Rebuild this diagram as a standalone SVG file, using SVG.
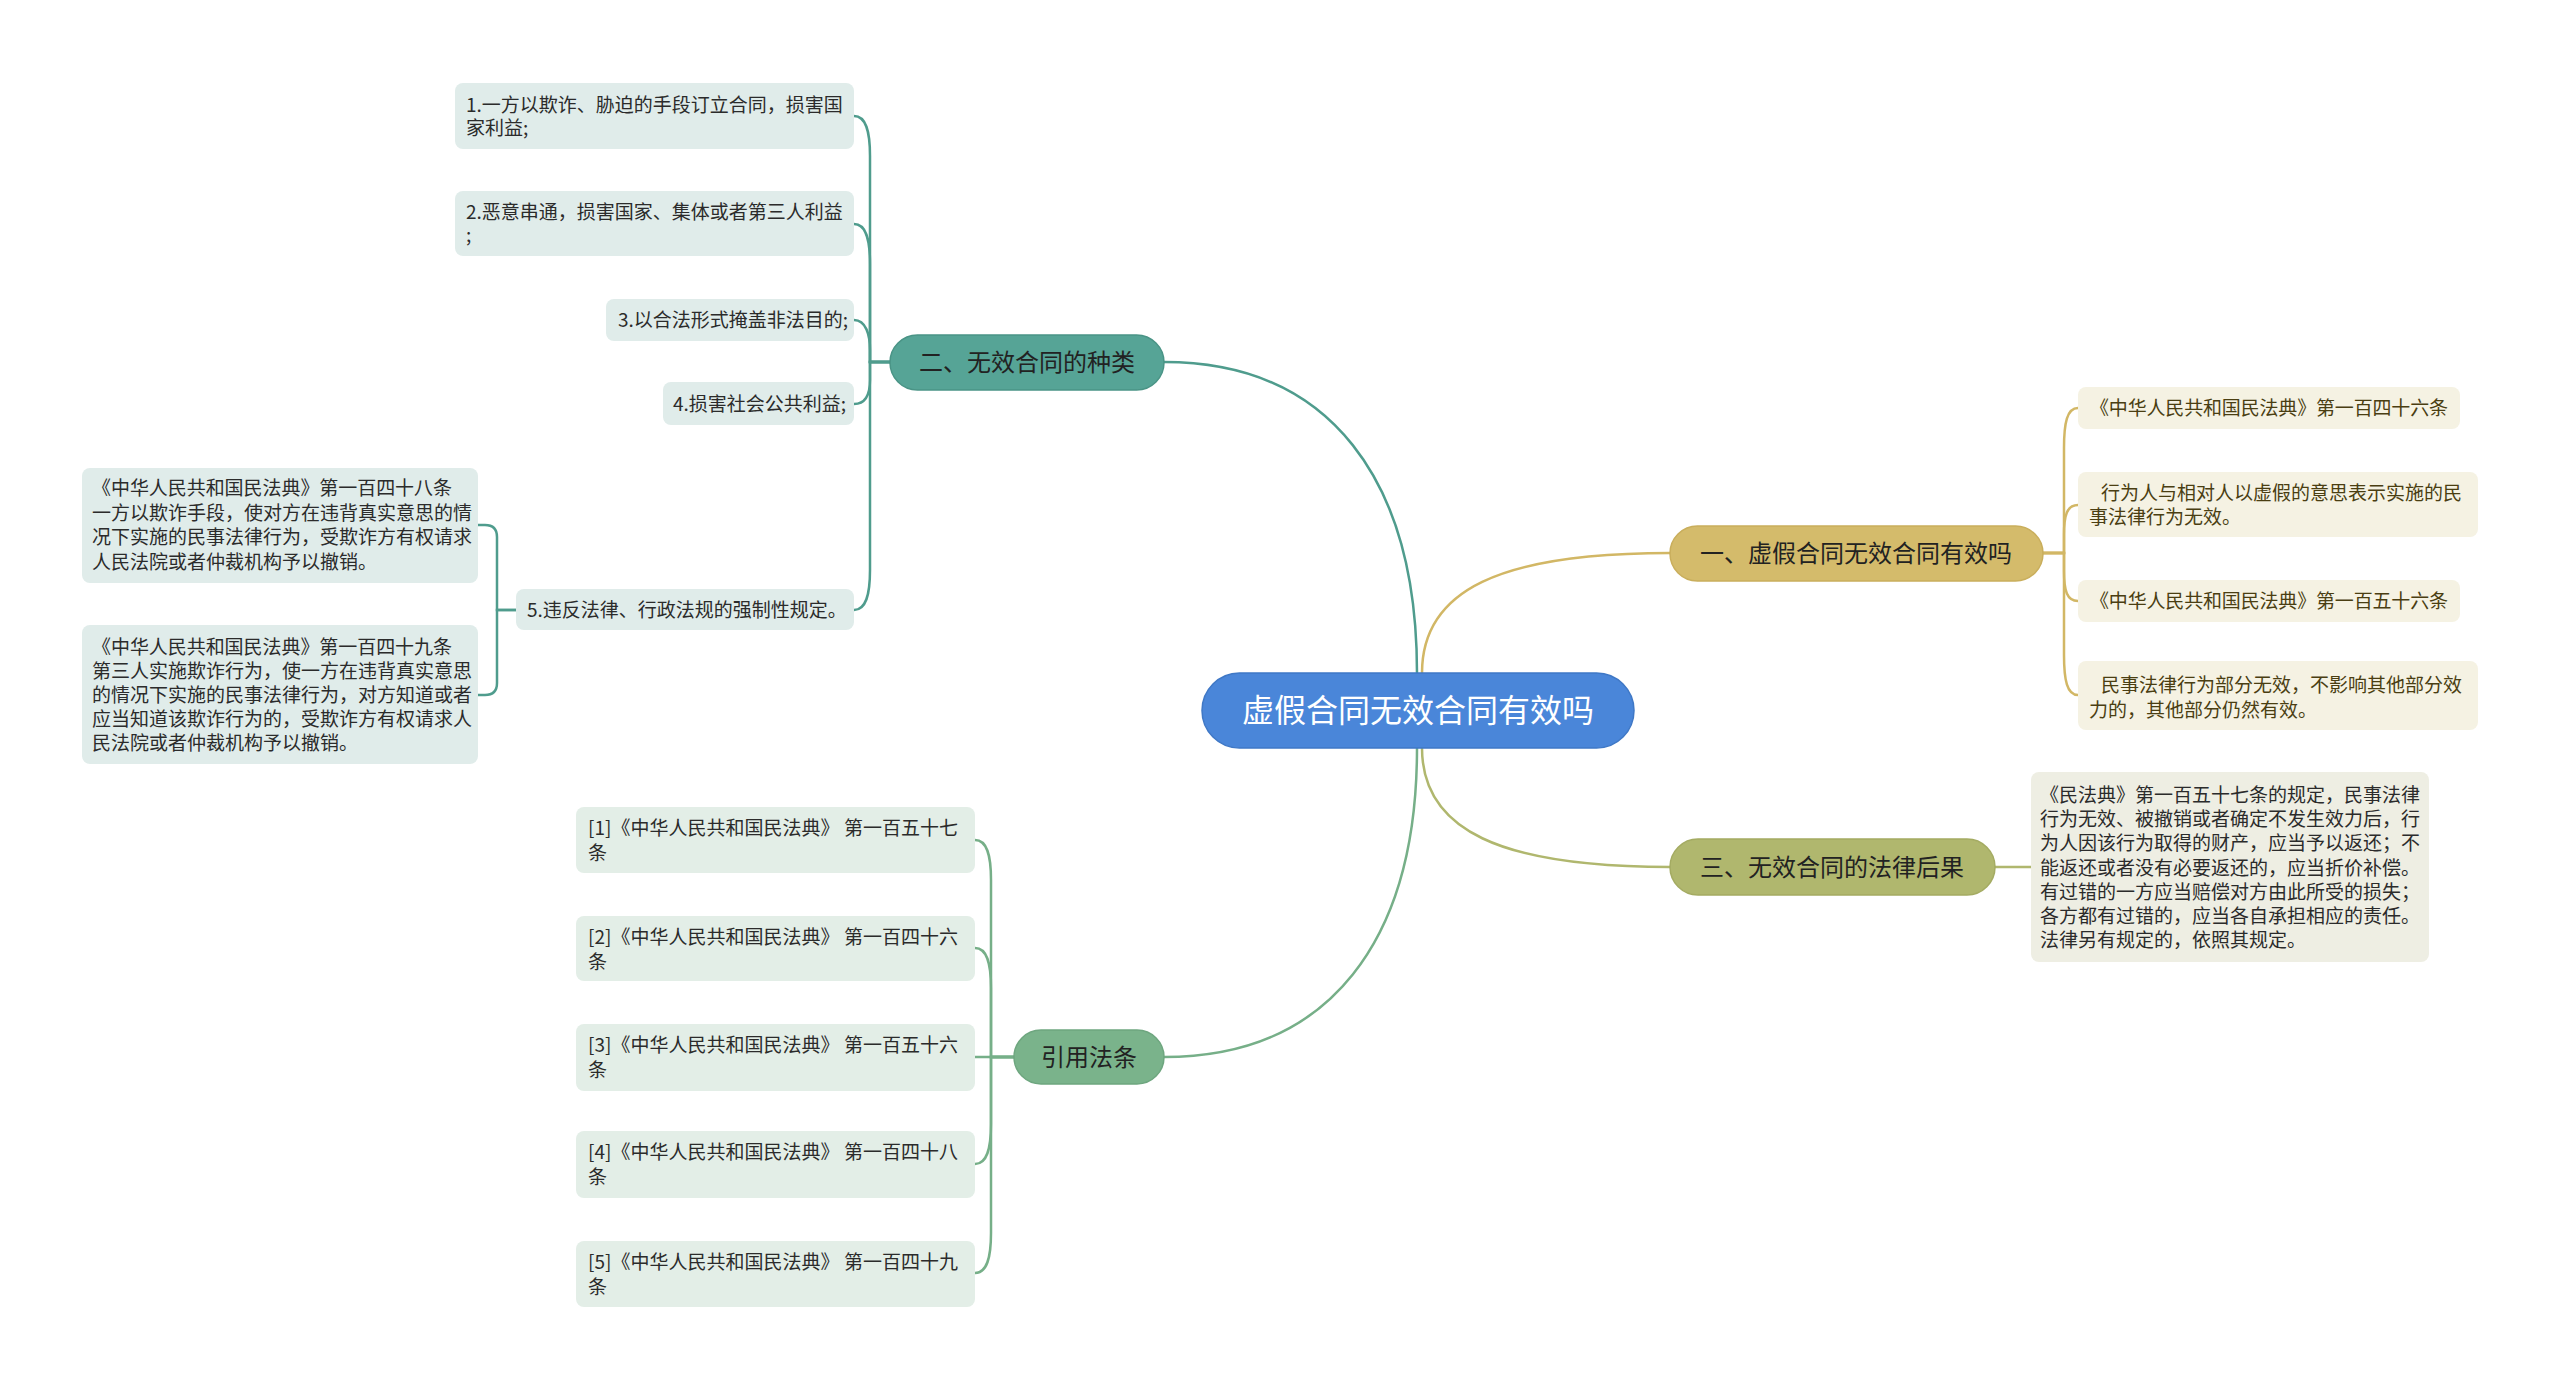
<svg xmlns="http://www.w3.org/2000/svg" width="2560" height="1389" viewBox="0 0 2560 1389">
<style>
text{font-family:"Noto Sans CJK SC","Microsoft YaHei",sans-serif;}
.lf{font-size:19px;fill:#2b2b2b;}
.lg{font-size:19px;fill:#4a3e12;}
.br{font-size:24px;fill:#222;text-anchor:middle;}
.root{font-size:32px;fill:#fff;text-anchor:middle;}
.conn path{fill:none;stroke-width:2.5;stroke-linecap:round;}
.t{stroke:#4f9c8d;}
.g{stroke:#d2b765;}
.o{stroke:#b0b76e;}
.gr{stroke:#76af88;}
.bt{fill:#e0ecea;}
.bg{fill:#f5f2e3;}
.bo{fill:#eeeee3;}
.bgr{fill:#e3eee7;}
</style>
<rect width="2560" height="1389" fill="#fff"/>
<g class="conn" id="connectors">
<path class="t" d="M1417,673 C1417,480 1330,362 1164,362"/>
<path class="g" d="M1422,673 C1422,590 1500,553 1670,553"/>
<path class="o" d="M1422,748 C1422,830 1500,867 1670,867"/>
<path class="gr" d="M1417,748 C1417,940 1330,1057 1164,1057"/>
<path class="t" d="M890,362 H870 V156 C870,131 866,116 854,116"/>
<path class="t" d="M890,362 H870 V264 C870,239 866,224 854,224"/>
<path class="t" d="M890,362 H870 V350 C870,335 866,320 854,320"/>
<path class="t" d="M890,362 H870 V380 C870,394 866,404 854,404"/>
<path class="t" d="M890,362 H870 V570 C870,595 866,610 854,610"/>
<path class="t" d="M516,610 H497 V537 Q497,525 485,525 H478"/>
<path class="t" d="M516,610 H497 V683 Q497,695 485,695 H478"/>
<path class="g" d="M2043,553 H2064 V448 C2064,423 2067,408 2078,408"/>
<path class="g" d="M2043,553 H2064 V535 C2064,515 2067,505 2078,505"/>
<path class="g" d="M2043,553 H2064 V571 C2064,591 2067,601 2078,601"/>
<path class="g" d="M2043,553 H2064 V655 C2064,680 2067,695 2078,695"/>
<path class="o" d="M1995,867 H2031"/>
<path class="gr" d="M1014,1057 H991 V880 C991,855 987,840 975,840"/>
<path class="gr" d="M1014,1057 H991 V988 C991,963 987,948 975,948"/>
<path class="gr" d="M1014,1057 H975"/>
<path class="gr" d="M1014,1057 H991 V1124 C991,1149 987,1164 975,1164"/>
<path class="gr" d="M1014,1057 H991 V1233 C991,1258 987,1273 975,1273"/>
</g>
<g id="root">
<rect x="1202" y="673" width="432" height="75" rx="37.5" fill="#4a86d9" stroke="#3f78c6" stroke-width="1.5"/>
<text class="root" x="1418" y="722">虚假合同无效合同有效吗</text>
</g>
<g id="branch-2">
<rect x="890" y="335" width="274" height="55" rx="27.5" fill="#56a496" stroke="#4a9486" stroke-width="1.5"/>
<text class="br" x="1027" y="371">二、无效合同的种类</text>
</g>
<g id="leaf-2-1">
<rect class="bt" x="455" y="83" width="399" height="66" rx="8"/>
<text class="lf" x="466" y="112">1.一方以欺诈、胁迫的手段订立合同，损害国</text>
<text class="lf" x="466" y="135">家利益;</text>
</g>
<g id="leaf-2-2">
<rect class="bt" x="455" y="191" width="399" height="65" rx="8"/>
<text class="lf" x="466" y="219">2.恶意串通，损害国家、集体或者第三人利益</text>
<text class="lf" x="466" y="242">;</text>
</g>
<g id="leaf-2-3">
<rect class="bt" x="606" y="299" width="248" height="42" rx="8"/>
<text class="lf" x="618" y="327">3.以合法形式掩盖非法目的;</text>
</g>
<g id="leaf-2-4">
<rect class="bt" x="663" y="382" width="191" height="43" rx="8"/>
<text class="lf" x="673" y="411">4.损害社会公共利益;</text>
</g>
<g id="leaf-2-5">
<rect class="bt" x="516" y="589" width="338" height="41" rx="8"/>
<text class="lf" x="527" y="617">5.违反法律、行政法规的强制性规定。</text>
</g>
<g id="leaf-2-5-a">
<rect class="bt" x="82" y="468" width="396" height="115" rx="8"/>
<text class="lf" x="92" y="495" textLength="360" lengthAdjust="spacing">《中华人民共和国民法典》第一百四十八条</text>
<text class="lf" x="92" y="520">一方以欺诈手段，使对方在违背真实意思的情</text>
<text class="lf" x="92" y="544">况下实施的民事法律行为，受欺诈方有权请求</text>
<text class="lf" x="92" y="569">人民法院或者仲裁机构予以撤销。</text>
</g>
<g id="leaf-2-5-b">
<rect class="bt" x="82" y="625" width="396" height="139" rx="8"/>
<text class="lf" x="92" y="654" textLength="360" lengthAdjust="spacing">《中华人民共和国民法典》第一百四十九条</text>
<text class="lf" x="92" y="678">第三人实施欺诈行为，使一方在违背真实意思</text>
<text class="lf" x="92" y="702">的情况下实施的民事法律行为，对方知道或者</text>
<text class="lf" x="92" y="726">应当知道该欺诈行为的，受欺诈方有权请求人</text>
<text class="lf" x="92" y="750">民法院或者仲裁机构予以撤销。</text>
</g>
<g id="branch-1">
<rect x="1670" y="526" width="373" height="55" rx="27.5" fill="#d4bb6b" stroke="#c9ae5c" stroke-width="1.5"/>
<text class="br" x="1856" y="562">一、虚假合同无效合同有效吗</text>
</g>
<g id="leaf-1-1">
<rect class="bg" x="2078" y="387" width="382" height="42" rx="8"/>
<text class="lg" x="2090" y="415" textLength="358" lengthAdjust="spacing">《中华人民共和国民法典》第一百四十六条</text>
</g>
<g id="leaf-1-2">
<rect class="bg" x="2078" y="472" width="400" height="65" rx="8"/>
<text class="lg" x="2101" y="500">行为人与相对人以虚假的意思表示实施的民</text>
<text class="lg" x="2089" y="524">事法律行为无效。</text>
</g>
<g id="leaf-1-3">
<rect class="bg" x="2078" y="580" width="382" height="42" rx="8"/>
<text class="lg" x="2090" y="608" textLength="358" lengthAdjust="spacing">《中华人民共和国民法典》第一百五十六条</text>
</g>
<g id="leaf-1-4">
<rect class="bg" x="2078" y="661" width="400" height="69" rx="8"/>
<text class="lg" x="2101" y="692">民事法律行为部分无效，不影响其他部分效</text>
<text class="lg" x="2089" y="717">力的，其他部分仍然有效。</text>
</g>
<g id="branch-3">
<rect x="1670" y="839" width="325" height="56" rx="28" fill="#b0b76e" stroke="#a4ab62" stroke-width="1.5"/>
<text class="br" x="1832" y="876">三、无效合同的法律后果</text>
</g>
<g id="leaf-3-1">
<rect class="bo" x="2031" y="772" width="398" height="190" rx="8"/>
<text class="lf" x="2040" y="802">《民法典》第一百五十七条的规定，民事法律</text>
<text class="lf" x="2040" y="826">行为无效、被撤销或者确定不发生效力后，行</text>
<text class="lf" x="2040" y="850">为人因该行为取得的财产，应当予以返还；不</text>
<text class="lf" x="2040" y="875">能返还或者没有必要返还的，应当折价补偿。</text>
<text class="lf" x="2040" y="899">有过错的一方应当赔偿对方由此所受的损失；</text>
<text class="lf" x="2040" y="923">各方都有过错的，应当各自承担相应的责任。</text>
<text class="lf" x="2040" y="947">法律另有规定的，依照其规定。</text>
</g>
<g id="branch-4">
<rect x="1014" y="1030" width="150" height="54" rx="27" fill="#7ab38b" stroke="#6ea67f" stroke-width="1.5"/>
<text class="br" x="1089" y="1066">引用法条</text>
</g>
<g id="ref-1">
<rect class="bgr" x="576" y="807" width="399" height="66" rx="8"/>
<text class="lf" x="588" y="835" textLength="370" lengthAdjust="spacing">[1]《中华人民共和国民法典》 第一百五十七</text>
<text class="lf" x="588" y="860">条</text>
</g>
<g id="ref-2">
<rect class="bgr" x="576" y="916" width="399" height="65" rx="8"/>
<text class="lf" x="588" y="944" textLength="370" lengthAdjust="spacing">[2]《中华人民共和国民法典》 第一百四十六</text>
<text class="lf" x="588" y="969">条</text>
</g>
<g id="ref-3">
<rect class="bgr" x="576" y="1024" width="399" height="67" rx="8"/>
<text class="lf" x="588" y="1052" textLength="370" lengthAdjust="spacing">[3]《中华人民共和国民法典》 第一百五十六</text>
<text class="lf" x="588" y="1077">条</text>
</g>
<g id="ref-4">
<rect class="bgr" x="576" y="1131" width="399" height="67" rx="8"/>
<text class="lf" x="588" y="1159" textLength="370" lengthAdjust="spacing">[4]《中华人民共和国民法典》 第一百四十八</text>
<text class="lf" x="588" y="1184">条</text>
</g>
<g id="ref-5">
<rect class="bgr" x="576" y="1241" width="399" height="66" rx="8"/>
<text class="lf" x="588" y="1269" textLength="370" lengthAdjust="spacing">[5]《中华人民共和国民法典》 第一百四十九</text>
<text class="lf" x="588" y="1294">条</text>
</g>
</svg>
